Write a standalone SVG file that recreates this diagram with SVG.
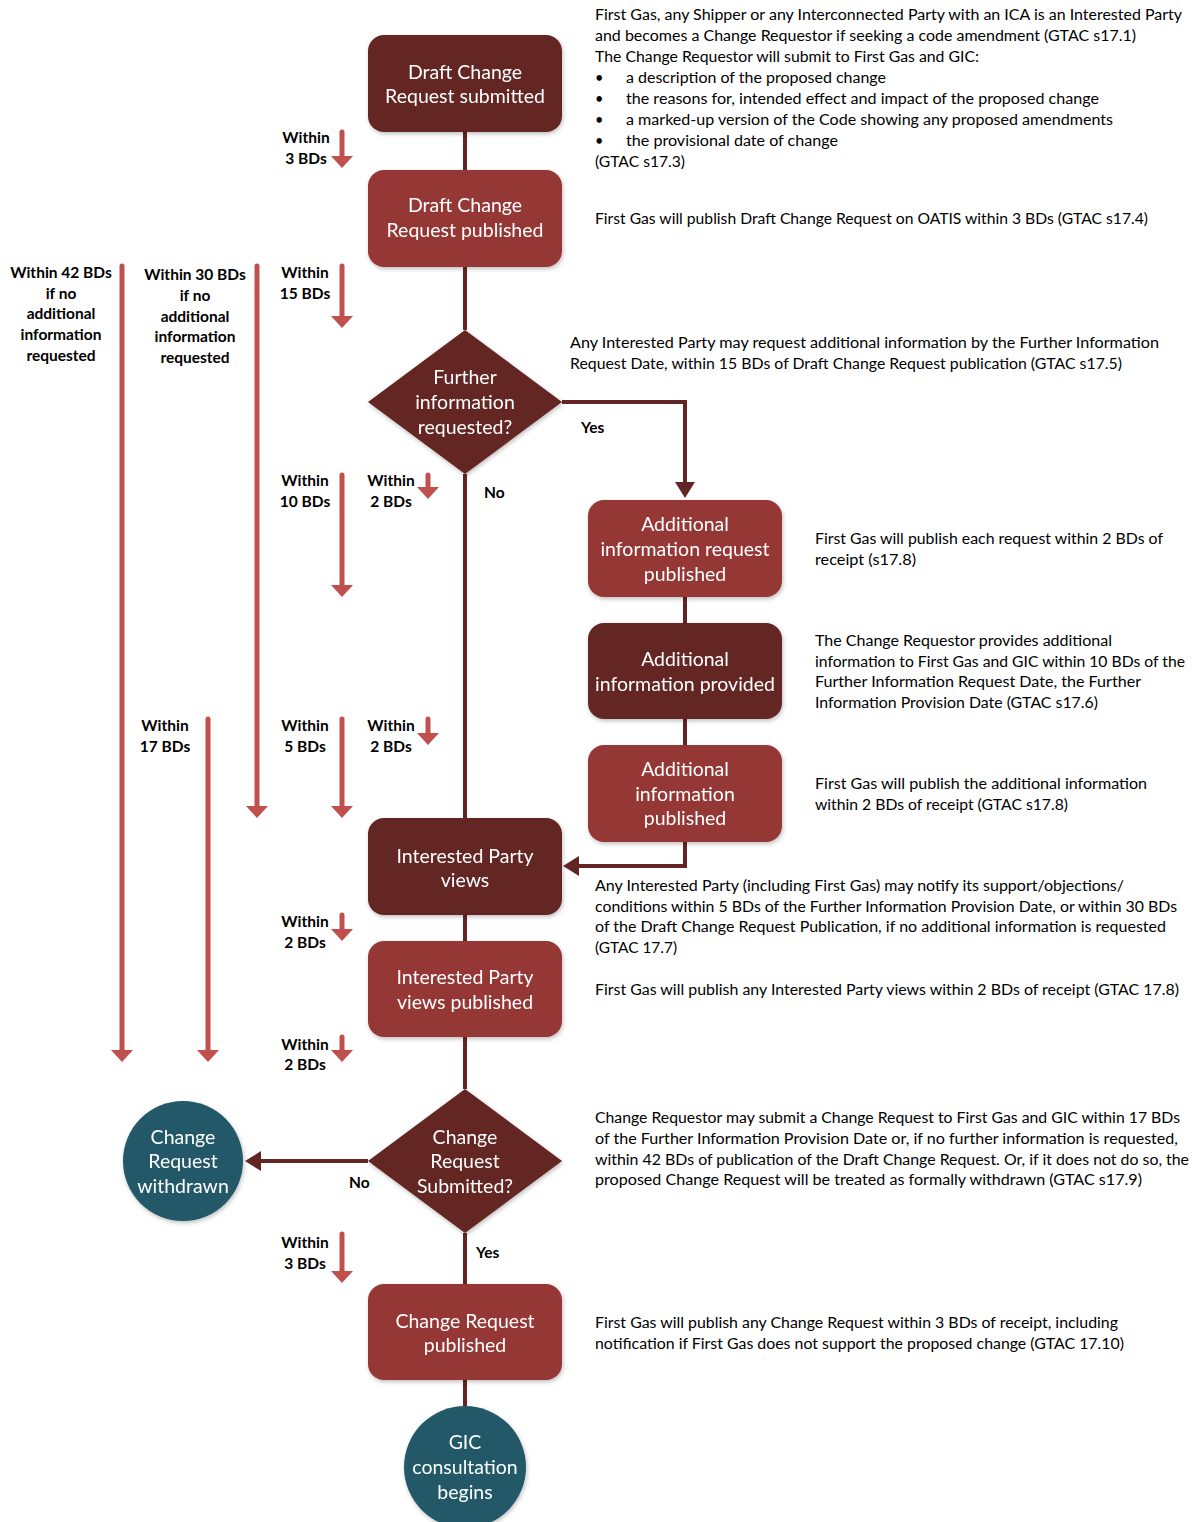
<svg xmlns="http://www.w3.org/2000/svg" width="1198" height="1522" viewBox="0 0 1198 1522">
<style>
.dark{fill:#632523}
.mid{fill:#953735}
.teal{fill:#215967}
.nt{font-family:Lato,"Liberation Sans",sans-serif;font-size:19.5px;fill:#ffffff;text-anchor:middle}
.lb{font-family:Lato,"Liberation Sans",sans-serif;font-size:15.5px;font-weight:bold;fill:#000000;text-anchor:middle}
.yn{font-family:Lato,"Liberation Sans",sans-serif;font-size:15.5px;font-weight:bold;fill:#000000}
.tx{font-family:Lato,"Liberation Sans",sans-serif;font-size:14.5px;fill:#000000}
.conn{stroke:#632523;stroke-width:4;fill:none}
.red{stroke:#C0504D;stroke-width:5;fill:none;stroke-linecap:round}
</style>
<defs>
<filter id="sh" x="-20%" y="-20%" width="140%" height="140%">
<feDropShadow dx="1" dy="2" stdDeviation="2" flood-color="#000000" flood-opacity="0.25"/>
</filter>
<marker id="ra" markerUnits="userSpaceOnUse" viewBox="0 -11 12 22" markerWidth="12" markerHeight="22" refX="2" refY="0" orient="auto">
<path d="M0,-11 L12,0 L0,11 z" fill="#C0504D"/>
</marker>
<marker id="da" markerUnits="userSpaceOnUse" viewBox="0 -10 16 20" markerWidth="16" markerHeight="20" refX="2" refY="0" orient="auto">
<path d="M0,-10 L16,0 L0,10 z" fill="#632523"/>
</marker>
</defs>
<rect width="1198" height="1522" fill="#ffffff"/>

<g id="connectors">
<line class="conn" x1="465" y1="132" x2="465" y2="170"/>
<line class="conn" x1="465" y1="267" x2="465" y2="330"/>
<polyline class="conn" points="562,402 685,402 685,484" marker-end="url(#da)"/>
<line class="conn" x1="465" y1="474" x2="465" y2="818"/>
<line class="conn" x1="685" y1="597" x2="685" y2="623"/>
<line class="conn" x1="685" y1="719" x2="685" y2="745"/>
<polyline class="conn" points="685,842 685,866 577,866" marker-end="url(#da)"/>
<line class="conn" x1="465" y1="915" x2="465" y2="941"/>
<line class="conn" x1="465" y1="1037" x2="465" y2="1089"/>
<line class="conn" x1="368" y1="1161" x2="259" y2="1161" marker-end="url(#da)"/>
<line class="conn" x1="465" y1="1233" x2="465" y2="1284"/>
<line class="conn" x1="465" y1="1380" x2="465" y2="1406"/>
<text class="yn" x="581" y="433">Yes</text>
<text class="yn" x="484" y="498">No</text>
<text class="yn" x="349" y="1188">No</text>
<text class="yn" x="476" y="1258">Yes</text>
</g>

<g id="timings">
<line class="red" x1="342" y1="132" x2="342" y2="158" marker-end="url(#ra)"/>
<line class="red" x1="342" y1="266" x2="342" y2="318" marker-end="url(#ra)"/>
<line class="red" x1="122" y1="266" x2="122" y2="1052" marker-end="url(#ra)"/>
<line class="red" x1="257" y1="266" x2="257" y2="808" marker-end="url(#ra)"/>
<line class="red" x1="342" y1="475" x2="342" y2="587" marker-end="url(#ra)"/>
<line class="red" x1="428" y1="475" x2="428" y2="489" marker-end="url(#ra)"/>
<line class="red" x1="208" y1="719" x2="208" y2="1052" marker-end="url(#ra)"/>
<line class="red" x1="342" y1="719" x2="342" y2="808" marker-end="url(#ra)"/>
<line class="red" x1="428" y1="719" x2="428" y2="735" marker-end="url(#ra)"/>
<line class="red" x1="342" y1="915" x2="342" y2="931" marker-end="url(#ra)"/>
<line class="red" x1="342" y1="1037" x2="342" y2="1052" marker-end="url(#ra)"/>
<line class="red" x1="342" y1="1234" x2="342" y2="1273" marker-end="url(#ra)"/>

<text class="lb" x="306" y="143">Within</text><text class="lb" x="306" y="164">3 BDs</text>
<text class="lb" x="305" y="278">Within</text><text class="lb" x="305" y="299">15 BDs</text>
<text class="lb" x="61" y="278">Within 42 BDs</text><text class="lb" x="61" y="299">if no</text><text class="lb" x="61" y="319">additional</text><text class="lb" x="61" y="340">information</text><text class="lb" x="61" y="361">requested</text>
<text class="lb" x="195" y="280">Within 30 BDs</text><text class="lb" x="195" y="301">if no</text><text class="lb" x="195" y="322">additional</text><text class="lb" x="195" y="342">information</text><text class="lb" x="195" y="363">requested</text>
<text class="lb" x="305" y="486">Within</text><text class="lb" x="305" y="507">10 BDs</text>
<text class="lb" x="391" y="486">Within</text><text class="lb" x="391" y="507">2 BDs</text>
<text class="lb" x="165" y="731">Within</text><text class="lb" x="165" y="752">17 BDs</text>
<text class="lb" x="305" y="731">Within</text><text class="lb" x="305" y="752">5 BDs</text>
<text class="lb" x="391" y="731">Within</text><text class="lb" x="391" y="752">2 BDs</text>
<text class="lb" x="305" y="927">Within</text><text class="lb" x="305" y="948">2 BDs</text>
<text class="lb" x="305" y="1050">Within</text><text class="lb" x="305" y="1070">2 BDs</text>
<text class="lb" x="305" y="1248">Within</text><text class="lb" x="305" y="1269">3 BDs</text>
</g>

<g id="n-draft-submitted" filter="url(#sh)">
<rect class="dark" x="368" y="35" width="194" height="97" rx="16"/>
<text class="nt" x="465" y="79">Draft Change</text><text class="nt" x="465" y="103">Request submitted</text>
</g>
<g id="n-draft-published" filter="url(#sh)">
<rect class="mid" x="368" y="170" width="194" height="97" rx="16"/>
<text class="nt" x="465" y="212">Draft Change</text><text class="nt" x="465" y="237">Request published</text>
</g>
<g id="n-further-info" filter="url(#sh)">
<polygon class="dark" points="465,330 562,402 465,474 368,402"/>
<text class="nt" x="465" y="384">Further</text><text class="nt" x="465" y="409">information</text><text class="nt" x="465" y="434">requested?</text>
</g>
<g id="n-addl-request-published" filter="url(#sh)">
<rect class="mid" x="588" y="500" width="194" height="97" rx="16"/>
<text class="nt" x="685" y="531">Additional</text><text class="nt" x="685" y="556">information request</text><text class="nt" x="685" y="581">published</text>
</g>
<g id="n-addl-provided" filter="url(#sh)">
<rect class="dark" x="588" y="623" width="194" height="96" rx="16"/>
<text class="nt" x="685" y="666">Additional</text><text class="nt" x="685" y="691">information provided</text>
</g>
<g id="n-addl-published" filter="url(#sh)">
<rect class="mid" x="588" y="745" width="194" height="97" rx="16"/>
<text class="nt" x="685" y="776">Additional</text><text class="nt" x="685" y="801">information</text><text class="nt" x="685" y="825">published</text>
</g>
<g id="n-ip-views" filter="url(#sh)">
<rect class="dark" x="368" y="818" width="194" height="97" rx="16"/>
<text class="nt" x="465" y="863">Interested Party</text><text class="nt" x="465" y="887">views</text>
</g>
<g id="n-ip-views-published" filter="url(#sh)">
<rect class="mid" x="368" y="941" width="194" height="96" rx="16"/>
<text class="nt" x="465" y="984">Interested Party</text><text class="nt" x="465" y="1009">views published</text>
</g>
<g id="n-cr-submitted" filter="url(#sh)">
<polygon class="dark" points="465,1089 562,1161 465,1233 368,1161"/>
<text class="nt" x="465" y="1144">Change</text><text class="nt" x="465" y="1168">Request</text><text class="nt" x="465" y="1193">Submitted?</text>
</g>
<g id="n-cr-withdrawn" filter="url(#sh)">
<circle class="teal" cx="183" cy="1161" r="60"/>
<text class="nt" x="183" y="1144">Change</text><text class="nt" x="183" y="1168">Request</text><text class="nt" x="183" y="1193">withdrawn</text>
</g>
<g id="n-cr-published" filter="url(#sh)">
<rect class="mid" x="368" y="1284" width="194" height="96" rx="16"/>
<text class="nt" x="465" y="1328">Change Request</text><text class="nt" x="465" y="1352">published</text>
</g>
<g id="n-gic" filter="url(#sh)">
<circle class="teal" cx="465" cy="1467" r="61"/>
<text class="nt" x="465" y="1449">GIC</text><text class="nt" x="465" y="1474">consultation</text><text class="nt" x="465" y="1499">begins</text>
</g>

<g id="notes">
<text class="tx" x="595" y="20" textLength="587" lengthAdjust="spacingAndGlyphs">First Gas, any Shipper or any Interconnected Party with an ICA is an Interested Party</text>
<text class="tx" x="595" y="41" textLength="541" lengthAdjust="spacingAndGlyphs">and becomes a Change Requestor if seeking a code amendment (GTAC s17.1)</text>
<text class="tx" x="595" y="62" textLength="384" lengthAdjust="spacingAndGlyphs">The Change Requestor will submit to First Gas and GIC:</text>
<text class="tx" x="595" y="83">•</text><text class="tx" x="626" y="83" textLength="260" lengthAdjust="spacingAndGlyphs">a description of the proposed change</text>
<text class="tx" x="595" y="104">•</text><text class="tx" x="626" y="104" textLength="473" lengthAdjust="spacingAndGlyphs">the reasons for, intended effect and impact of the proposed change</text>
<text class="tx" x="595" y="125">•</text><text class="tx" x="626" y="125" textLength="487" lengthAdjust="spacingAndGlyphs">a marked-up version of the Code showing any proposed amendments</text>
<text class="tx" x="595" y="146">•</text><text class="tx" x="626" y="146" textLength="212" lengthAdjust="spacingAndGlyphs">the provisional date of change</text>
<text class="tx" x="595" y="167" textLength="90" lengthAdjust="spacingAndGlyphs">(GTAC s17.3)</text>

<text class="tx" x="595" y="224" textLength="553" lengthAdjust="spacingAndGlyphs">First Gas will publish Draft Change Request on OATIS within 3 BDs (GTAC s17.4)</text>

<text class="tx" x="570" y="348" textLength="589" lengthAdjust="spacingAndGlyphs">Any Interested Party may request additional information by the Further Information</text>
<text class="tx" x="570" y="369" textLength="552" lengthAdjust="spacingAndGlyphs">Request Date, within 15 BDs of Draft Change Request publication (GTAC s17.5)</text>

<text class="tx" x="815" y="544" textLength="348" lengthAdjust="spacingAndGlyphs">First Gas will publish each request within 2 BDs of</text>
<text class="tx" x="815" y="565" textLength="101" lengthAdjust="spacingAndGlyphs">receipt (s17.8)</text>

<text class="tx" x="815" y="646" textLength="297" lengthAdjust="spacingAndGlyphs">The Change Requestor provides additional</text>
<text class="tx" x="815" y="667" textLength="370" lengthAdjust="spacingAndGlyphs">information to First Gas and GIC within 10 BDs of the</text>
<text class="tx" x="815" y="687" textLength="326" lengthAdjust="spacingAndGlyphs">Further Information Request Date, the Further</text>
<text class="tx" x="815" y="708" textLength="283" lengthAdjust="spacingAndGlyphs">Information Provision Date (GTAC s17.6)</text>

<text class="tx" x="815" y="789" textLength="332" lengthAdjust="spacingAndGlyphs">First Gas will publish the additional information</text>
<text class="tx" x="815" y="810" textLength="253" lengthAdjust="spacingAndGlyphs">within 2 BDs of receipt (GTAC s17.8)</text>

<text class="tx" x="595" y="891" textLength="529" lengthAdjust="spacingAndGlyphs">Any Interested Party (including First Gas) may notify its support/objections/</text>
<text class="tx" x="595" y="912" textLength="582" lengthAdjust="spacingAndGlyphs">conditions within 5 BDs of the Further Information Provision Date, or within 30 BDs</text>
<text class="tx" x="595" y="932" textLength="571" lengthAdjust="spacingAndGlyphs">of the Draft Change Request Publication, if no additional information is requested</text>
<text class="tx" x="595" y="953" textLength="82" lengthAdjust="spacingAndGlyphs">(GTAC 17.7)</text>

<text class="tx" x="595" y="995" textLength="584" lengthAdjust="spacingAndGlyphs">First Gas will publish any Interested Party views within 2 BDs of receipt (GTAC 17.8)</text>

<text class="tx" x="595" y="1123" textLength="585" lengthAdjust="spacingAndGlyphs">Change Requestor may submit a Change Request to First Gas and GIC within 17 BDs</text>
<text class="tx" x="595" y="1144" textLength="583" lengthAdjust="spacingAndGlyphs">of the Further Information Provision Date or, if no further information is requested,</text>
<text class="tx" x="595" y="1165" textLength="594" lengthAdjust="spacingAndGlyphs">within 42 BDs of publication of the Draft Change Request. Or, if it does not do so, the</text>
<text class="tx" x="595" y="1185" textLength="547" lengthAdjust="spacingAndGlyphs">proposed Change Request will be treated as formally withdrawn  (GTAC s17.9)</text>

<text class="tx" x="595" y="1328" textLength="523" lengthAdjust="spacingAndGlyphs">First Gas will publish any Change Request within 3 BDs of receipt, including</text>
<text class="tx" x="595" y="1349" textLength="529" lengthAdjust="spacingAndGlyphs">notification if First Gas does not support the proposed change (GTAC 17.10)</text>
</g>
</svg>
